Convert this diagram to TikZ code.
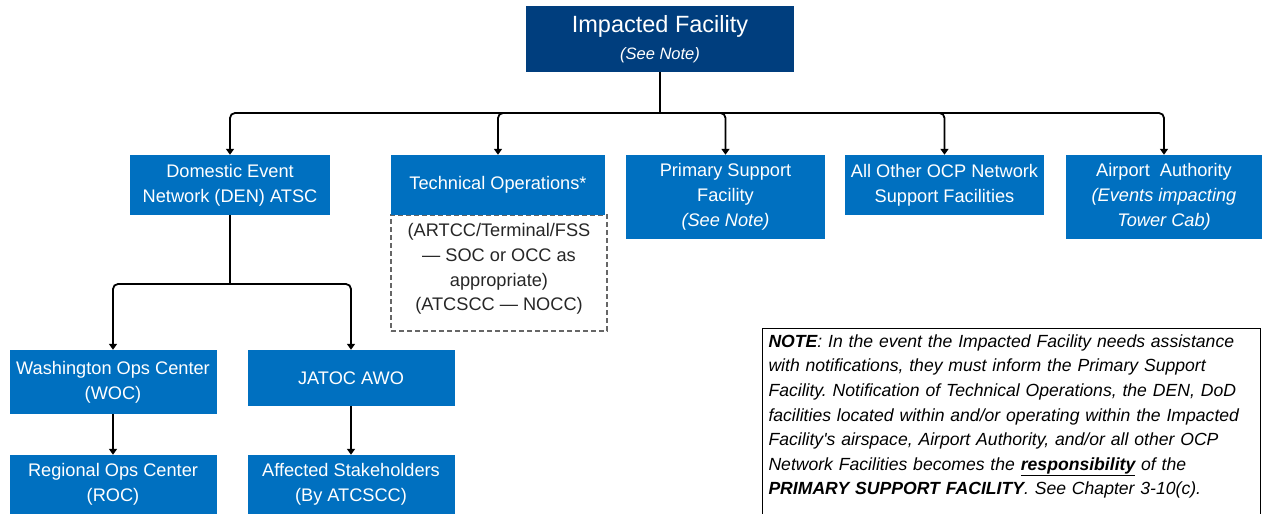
\documentclass[tikz,border=0pt]{standalone}
\usepackage{fontspec}
\setmainfont{Liberation Sans}
\usetikzlibrary{arrows.meta}
\definecolor{navy}{HTML}{003E7E}
\definecolor{fblue}{HTML}{0070C0}
\frenchspacing

\begin{document}
\begin{tikzpicture}[x=1pt,y=-1pt,
  box/.style={shape=rectangle,fill=fblue,text=white,align=center,inner sep=0pt,
    font=\fontsize{18.2}{24.8}\selectfont},
  line/.style={line width=1.8pt},
  arr/.style={line width=1.8pt,rounded corners=5pt,-{Triangle[length=6pt,width=8pt]}}]
\clip (0,0) rectangle (1264,514);
%top level
\path (660,39) node (impacted) [box,fill=navy,minimum width=268pt,minimum height=66pt]
  {{\fontsize{23.5}{30}\selectfont Impacted Facility}\\[2pt]{\fontsize{16.5}{20}\selectfont\itshape (See Note)}};
\path (660,113) coordinate (bus);

%second level
\path (230,185) node (den) [box,minimum width=200pt,minimum height=60pt] {Domestic Event\\Network (DEN) ATSC};
\path (499,273) node (techframe) [shape=rectangle,draw=black!60,dash pattern=on 5pt off 3pt,line width=1.3pt,
  minimum width=216pt,minimum height=116pt] {};
\path (499,269) node (techsub) [align=center,text=black!85,font=\fontsize{18.2}{24.6}\selectfont]
  {(ARTCC/Terminal/FSS\\— SOC or OCC as\\appropriate)\\(ATCSCC — NOCC)};
\path (498,185) node (techop) [box,minimum width=214pt,minimum height=60pt] {Technical Operations*};
\path (725.5,197) node (primary) [box,minimum width=199pt,minimum height=84pt] {Primary Support\\Facility\\\textit{(See Note)}};
\path (944.5,185) node (ocp) [box,minimum width=199pt,minimum height=60pt] {All Other OCP Network\\Support Facilities};
\path (1164,197) node (airport) [box,minimum width=196pt,minimum height=84pt] {Airport\ \ Authority\\\textit{(Events impacting}\\\textit{Tower Cab)}};

%third level
\path (230,284) coordinate (denbus);
\path (113,382) node (woc) [box,minimum width=207pt,minimum height=64pt] {Washington Ops Center\\(WOC)};
\path (351,378) node (jatoc) [box,minimum width=207pt,minimum height=56pt] {JATOC AWO};
\path (113,484.5) node (roc) [box,minimum width=207pt,minimum height=59pt] {Regional Ops Center\\(ROC)};
\path (351,484.5) node (affected) [box,minimum width=207pt,minimum height=59pt] {Affected Stakeholders\\(By ATCSCC)};

%note
\path (762,328) node (note) [anchor=north west,shape=rectangle,draw=black,line width=1pt,inner sep=6pt,
  text width=486pt,align=left,text depth=200pt,font=\fontsize{17.6}{24.6}\selectfont\itshape]
  {\textbf{NOTE}: In the event the Impacted Facility needs assistance\\
   with notifications, they must inform the Primary Support\\
   Facility. Notification of Technical Operations, the DEN, DoD\\
   facilities located within and/or operating within the Impacted\\
   Facility\textquotesingle s airspace, Airport Authority, and/or all other OCP\\
   Network Facilities becomes the \textbf{\underline{responsibility}} of the\\
   \textbf{PRIMARY SUPPORT FACILITY}. See Chapter 3-10(c).};

\draw [line] (impacted) -- (bus);
\draw [arr] (bus) -| (den.north);
\draw [arr] (bus) -| (techop.north);
\draw [arr] (bus) -| (primary.north);
\draw [arr] (bus) -| (ocp.north);
\draw [arr] (bus) -| (airport.north);

\draw [line] (den) -- (denbus);
\draw [arr] (denbus) -| (woc.north);
\draw [arr] (denbus) -| (jatoc.north);
\draw [line,-{Triangle[length=6pt,width=8pt]}] (woc.south) -- (roc.north);
\draw [line,-{Triangle[length=6pt,width=8pt]}] (jatoc.south) -- (affected.north);
\end{tikzpicture}
\end{document}
